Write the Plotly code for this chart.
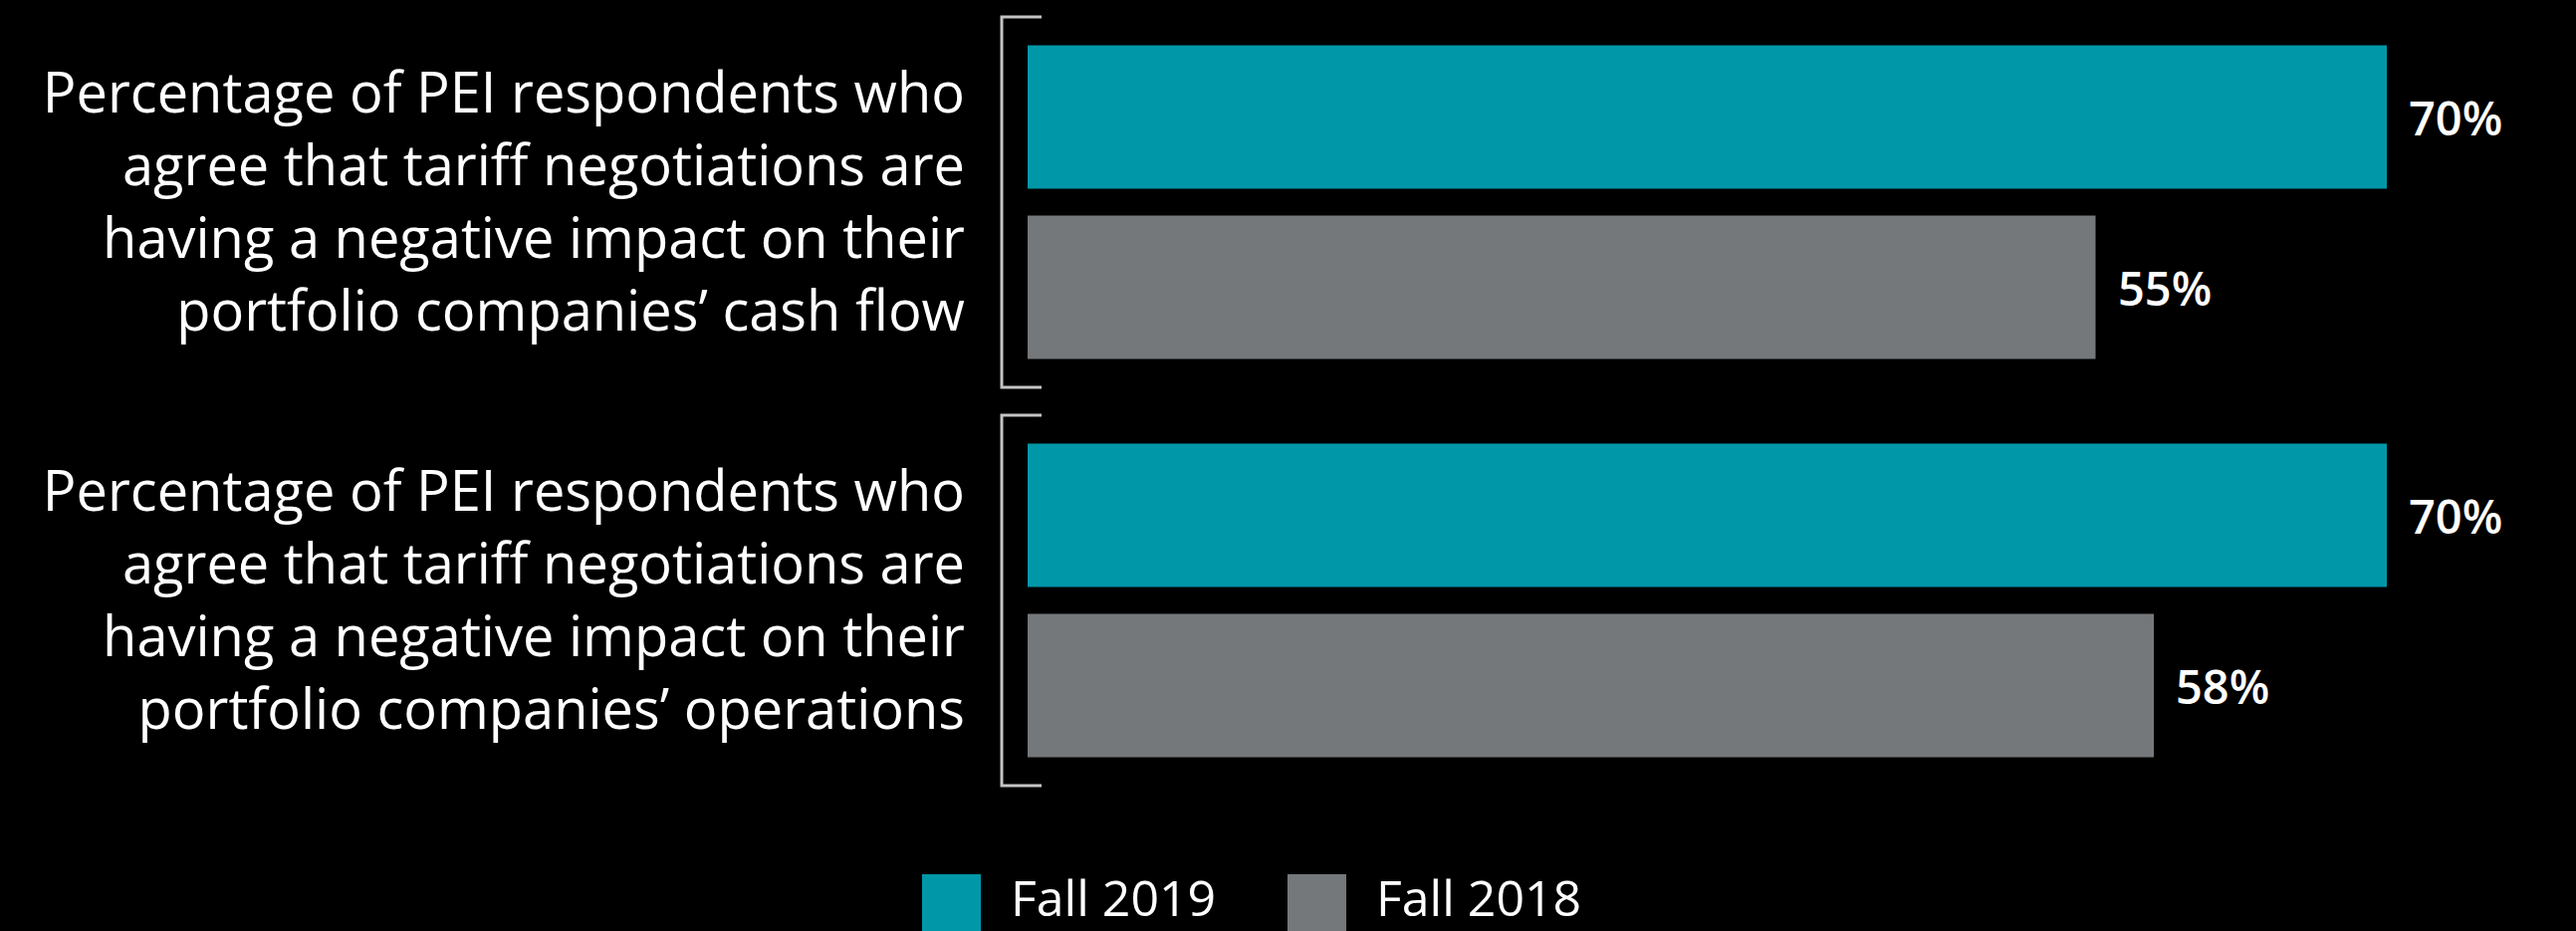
import plotly.graph_objects as go

# Survey questions (y categories), series names and values (%)
categories = [
    "Percentage of PEI respondents who<br>agree that tariff negotiations are<br>having a negative impact on their<br>portfolio companies\u2019 cash flow",
    "Percentage of PEI respondents who<br>agree that tariff negotiations are<br>having a negative impact on their<br>portfolio companies\u2019 operations",
]
series_names = ["Fall 2019", "Fall 2018"]
fall_2019 = [70, 70]
fall_2018 = [55, 58]
series_values = [fall_2019, fall_2018]
series_colors = ["#0097A9", "#75787B"]

W, H = 2587, 935
M_L, M_R, M_T, M_B = 1032, 0, 3, 132
PLOT_W = W - M_L - M_R
PLOT_H = H - M_T - M_B
PX_PER_UNIT = 19.5  # pixels per percentage point
X_MAX = PLOT_W / PX_PER_UNIT

FONT = "Open Sans"
BRACKET_COLOR = "#c4c4c4"


def px_x(p):
    """Convert an absolute pixel x to paper coordinates."""
    return (p - M_L) / PLOT_W


def px_y(p):
    """Convert an absolute pixel y (from top) to paper coordinates."""
    return (H - M_B - p) / PLOT_H


fig = go.Figure()
for name, vals, color in zip(series_names, series_values, series_colors):
    fig.add_trace(
        go.Bar(
            name=name,
            y=categories,
            x=vals,
            orientation="h",
            marker=dict(color=color, line=dict(width=0)),
            showlegend=False,
            hoverinfo="x+name",
        )
    )

# value labels to the right of each bar
slot_px = PLOT_H / 2 * (1 - 0.145) / 2
annotations = []
for i, vals in enumerate(series_values):
    shift = slot_px / 2 if i == 0 else -slot_px / 2
    for cat, v in zip(categories, vals):
        annotations.append(
            dict(
                x=v, y=cat, xref="x", yref="y",
                text=f"{v}%", showarrow=False,
                xanchor="left", yanchor="middle",
                xshift=20, yshift=shift,
                font=dict(family=FONT, size=47, color="#ffffff", weight=600),
            )
        )

# brackets around each question's pair of bars
shapes = []
bx0, bx1 = px_x(1006), px_x(1046)
for k in range(len(categories)):
    top, bot = k - 0.465, k + 0.465
    shapes.append(
        dict(
            type="path", xref="paper", yref="y",
            path=f"M {bx1} {top} L {bx0} {top} L {bx0} {bot} L {bx1} {bot}",
            line=dict(color=BRACKET_COLOR, width=3),
        )
    )

# legend: large swatches with labels
legend_items = [(926, 1013), (1293, 1380)]
for (sx, tx), name, color in zip(legend_items, series_names, series_colors):
    shapes.append(
        dict(
            type="rect", xref="paper", yref="paper",
            x0=px_x(sx), x1=px_x(sx + 59), y0=px_y(878), y1=px_y(940),
            fillcolor=color, line=dict(width=0),
        )
    )
    annotations.append(
        dict(
            x=px_x(tx), y=px_y(901), xref="paper", yref="paper",
            text=name, showarrow=False, xanchor="left", yanchor="middle",
            font=dict(family=FONT, size=50, color="#ffffff"),
        )
    )

fig.update_layout(
    width=W, height=H,
    margin=dict(l=M_L, r=M_R, t=M_T, b=M_B, pad=0),
    paper_bgcolor="#000000", plot_bgcolor="#000000",
    barmode="group", bargap=0.145, bargroupgap=0.158,
    shapes=shapes, annotations=annotations,
    xaxis=dict(range=[0, X_MAX], visible=False, fixedrange=True),
    yaxis=dict(
        categoryorder="array", categoryarray=categories,
        range=[1.5, -0.5], showgrid=False, zeroline=False, showline=False,
        ticks="", ticklabelstandoff=62,
        tickfont=dict(family=FONT, size=56, color="#ffffff"),
        fixedrange=True,
    ),
    font=dict(family=FONT, color="#ffffff"),
    showlegend=False,
)

fig.write_html("out.html")
